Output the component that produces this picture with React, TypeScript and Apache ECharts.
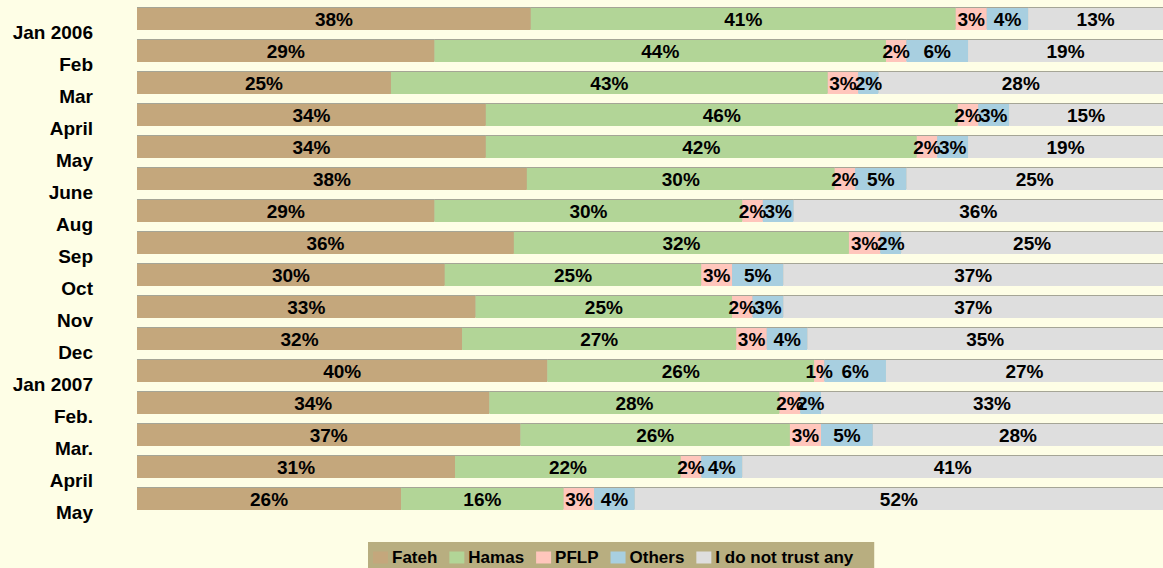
import React, { useEffect, useRef } from "react";
import * as echarts from "echarts";

const categories = ["Jan 2006", "Feb", "Mar", "April", "May", "June", "Aug", "Sep", "Oct", "Nov", "Dec", "Jan 2007", "Feb.", "Mar.", "April", "May"];
const fateh = [38, 29, 25, 34, 34, 38, 29, 36, 30, 33, 32, 40, 34, 37, 31, 26];
const hamas = [41, 44, 43, 46, 42, 30, 30, 32, 25, 25, 27, 26, 28, 26, 22, 16];
const pflp = [3, 2, 3, 2, 2, 2, 2, 3, 3, 2, 3, 1, 2, 3, 2, 3];
const others = [4, 6, 2, 3, 3, 5, 3, 2, 5, 3, 4, 6, 2, 5, 4, 4];
const noneTrust = [13, 19, 28, 15, 19, 25, 36, 25, 37, 37, 35, 27, 33, 28, 41, 52];

const seriesDefs = [
  { name: "Fateh", values: fateh, color: "#C4A77C" },
  { name: "Hamas", values: hamas, color: "#B2D597" },
  { name: "PFLP", values: pflp, color: "#FFC6BC" },
  { name: "Others", values: others, color: "#A8CFE0" },
  { name: "I do not trust any", values: noneTrust, color: "#DEDEDE" },
];

const FONT = "'Liberation Sans', Arial, sans-serif";

export default function App() {
  const ref = useRef<HTMLDivElement>(null);
  useEffect(() => {
    if (!ref.current) return;
    const chart = echarts.init(ref.current, undefined, { renderer: "svg" });
    const totals = categories.map((_, i) => seriesDefs.reduce((s, d) => s + d.values[i], 0));
    chart.setOption({
      animation: false,
      backgroundColor: "#FEFEE6",
      grid: { left: 137, right: 0, top: 3, height: 512, containLabel: false, outerBoundsMode: "none" },
      xAxis: { type: "value", min: 0, max: 100, show: false },
      yAxis: {
        type: "category",
        data: categories,
        inverse: true,
        axisLine: { show: false },
        axisTick: { show: false },
        axisLabel: {
          interval: 0,
          hideOverlap: false,
          showMinLabel: true,
          showMaxLabel: true,
          margin: 44,
          color: "#000",
          fontWeight: "bold",
          fontFamily: FONT,
          fontSize: 19,
          lineHeight: 27,
          formatter: (v: string) => "\n" + v,
        },
      },
      legend: {
        top: 542,
        left: 368,
        padding: [7, 21, 10, 5],
        backgroundColor: "#B8AE80",
        borderRadius: 0,
        itemWidth: 15,
        itemHeight: 12,
        itemGap: 12,
        icon: "rect",
        textStyle: { color: "#000", fontWeight: "bold", fontFamily: FONT, fontSize: 17, padding: [0, 0, 0, -1] },
        data: seriesDefs.map((d) => d.name),
      },
      series: seriesDefs.map((d) => ({
        name: d.name,
        type: "bar",
        stack: "total",
        barWidth: 22,
        itemStyle: { color: d.color, shadowColor: "rgba(0,0,0,0.35)", shadowOffsetY: -1, shadowBlur: 0 },
        label: {
          show: true,
          position: "inside",
          color: "#000",
          fontWeight: "bold",
          fontFamily: FONT,
          fontSize: 19,
          formatter: (p: any) => d.values[p.dataIndex] + "%",
        },
        data: d.values.map((v, i) => (v / totals[i]) * 100),
      })),
    });
    return () => chart.dispose();
  }, []);
  return <div ref={ref} style={{ width: 1163, height: 568, position: "absolute", left: 0, top: 0 }} />;
}
